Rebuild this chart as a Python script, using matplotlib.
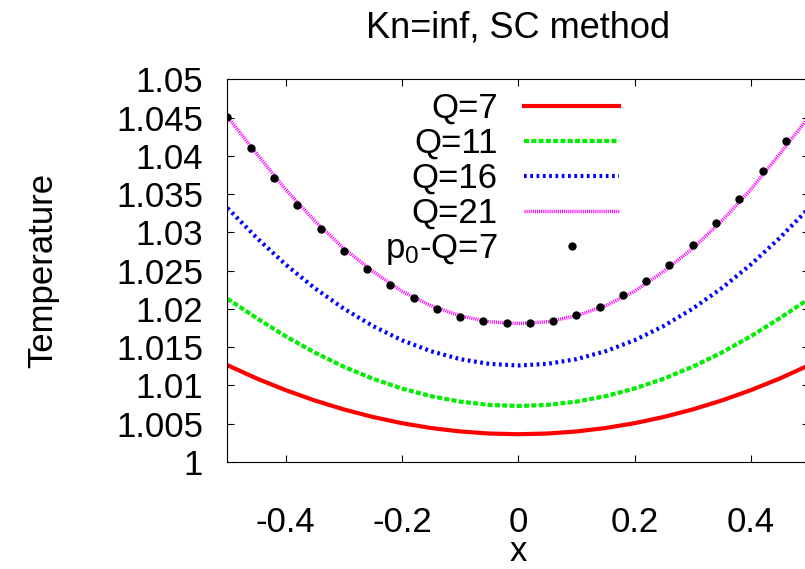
import matplotlib
matplotlib.use('Agg')
import matplotlib.pyplot as plt
from matplotlib.ticker import FixedLocator, FuncFormatter

plt.rcParams['font.family'] = 'Liberation Sans'
plt.rcParams['mathtext.default'] = 'regular'
plt.rcParams['axes.unicode_minus'] = False

# curves (Kn=inf, SC method)
x_line = [-0.5, -0.45, -0.4, -0.35, -0.3, -0.25, -0.2, -0.15, -0.1, -0.05, 0.0,
          0.05, 0.1, 0.15, 0.2, 0.25, 0.3, 0.35, 0.4, 0.45, 0.5]
T_q7 = [1.01264, 1.01091, 1.00938, 1.00803, 1.00686, 1.00587, 1.00506, 1.00443, 1.00398, 1.00371, 1.00362,
        1.00371, 1.00398, 1.00443, 1.00506, 1.00587, 1.00686, 1.00803, 1.00938, 1.01091, 1.01264]
T_q11 = [1.02132, 1.01880, 1.01642, 1.01429, 1.01244, 1.01087, 1.00959, 1.00859, 1.00788, 1.00745, 1.00731,
         1.00745, 1.00788, 1.00859, 1.00959, 1.01087, 1.01244, 1.01429, 1.01642, 1.01880, 1.02132]
T_q16 = [1.03318, 1.02930, 1.02580, 1.02271, 1.02003, 1.01776, 1.01590, 1.01446, 1.01343, 1.01281, 1.01260,
         1.01281, 1.01343, 1.01446, 1.01590, 1.01776, 1.02003, 1.02271, 1.02580, 1.02930, 1.03318]
T_q21 = [1.0451, 1.0403, 1.0356, 1.0315, 1.0279, 1.0249, 1.0223, 1.0204, 1.0191, 1.0183, 1.0181,
         1.0183, 1.0191, 1.0204, 1.0223, 1.0249, 1.0279, 1.0315, 1.0356, 1.0403, 1.0451]

# p0 points
x_p0 = [-0.5, -0.46, -0.42, -0.38, -0.34, -0.3, -0.26, -0.22, -0.18, -0.14, -0.1, -0.06, -0.02,
        0.02, 0.06, 0.1, 0.14, 0.18, 0.22, 0.26, 0.3, 0.34, 0.38, 0.42, 0.46]
T_p0 = [1.0451, 1.0410, 1.0371, 1.0336, 1.0304, 1.0276, 1.0252, 1.0231, 1.0214, 1.0200, 1.0190, 1.0184, 1.0181,
        1.0181, 1.0184, 1.0192, 1.0203, 1.0218, 1.0236, 1.0257, 1.0283, 1.0312, 1.0344, 1.0380, 1.0420]

x_ticks = [-0.4, -0.2, 0, 0.2, 0.4]
y_ticks = [1, 1.005, 1.01, 1.015, 1.02, 1.025, 1.03, 1.035, 1.04, 1.045, 1.05]

fs = 25
fig = plt.figure(figsize=(8.05, 5.69), dpi=100)
ax = fig.add_axes([0.2826, 0.1882, 0.7224, 0.6724])

ax.plot(x_line, T_q7, color='#ff0000', lw=3, label='Q=7')
ax.plot(x_line, T_q11, color='#00ee00', lw=3, linestyle=(0, (1.2, 0.55)), label='Q=11')
ax.plot(x_line, T_q16, color='#0000ff', lw=3, linestyle=(0, (0.65, 0.86)), label='Q=16')
ax.plot(x_line, T_q21, color='#ff00ff', lw=2.5, linestyle=(0, (0.3, 0.3)), label='Q=21')
ax.plot(x_p0, T_p0, 'o', color='black', ms=5, label='p$_0$-Q=7')

ax.set_xlim(-0.5, 0.5)
ax.set_ylim(1, 1.05)
ax.xaxis.set_major_locator(FixedLocator(x_ticks))
ax.yaxis.set_major_locator(FixedLocator(y_ticks))
ax.xaxis.set_major_formatter(FuncFormatter(lambda v, p: '%g' % round(v, 3)))
ax.yaxis.set_major_formatter(FuncFormatter(lambda v, p: '%g' % round(v, 4)))
ax.tick_params(direction='in', length=5, width=0.8, top=True, right=True, labelsize=fs)
ax.tick_params(axis='x', pad=32)
ax.tick_params(axis='y', pad=17.5)
for s in ax.spines.values():
    s.set_linewidth(0.8)

ax.set_title('Kn=inf, SC method', fontsize=26, pad=30)
ax.set_xlabel('x', fontsize=fs, labelpad=-3)
ax.set_ylabel('Temperature', fontsize=fs, labelpad=41)

ax.legend(loc='upper right', bbox_to_anchor=(0.6738, 0.967), frameon=False, fontsize=fs,
          markerfirst=False, handlelength=2.75, handletextpad=0.75, labelspacing=0.06,
          borderpad=0, borderaxespad=0, numpoints=1)

fig.savefig('out.png', dpi=100)
